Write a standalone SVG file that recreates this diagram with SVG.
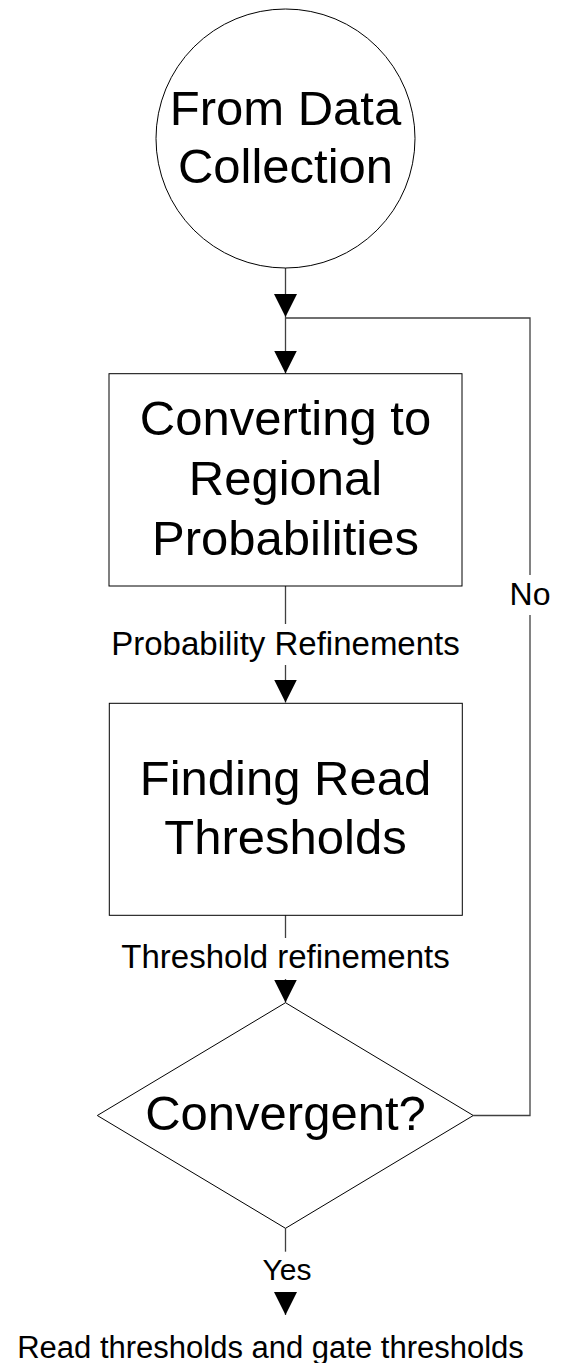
<svg xmlns="http://www.w3.org/2000/svg" width="562" height="1363" viewBox="0 0 562 1363">
<style>
.shape{fill:#fff;stroke:#000;stroke-width:1}
.conn{fill:none;stroke:#404040;stroke-width:1.3}
.arr{marker-end:url(#ah)}
text{font-family:"Liberation Sans",Arial,sans-serif;fill:#000;text-anchor:middle}
.big{font-size:49px}
.lbl{font-size:32px}
</style>
<defs>
<marker id="ah" markerUnits="userSpaceOnUse" markerWidth="23" markerHeight="23" viewBox="0 0 22 22" refX="22" refY="11" orient="auto">
<path d="M0,0 L22,11 L0,22 Z" fill="#000"/>
</marker>
</defs>
<rect width="562" height="1363" fill="#fff"/>
<g id="connectors">
<path class="conn arr" d="M285.5,268 V317"/>
<path class="conn arr" d="M285.5,317 V373.5"/>
<path class="conn" d="M473.3,1115.5 H530 V615"/>
<path class="conn" d="M530,575 V318 H285.5"/>
<path class="conn" d="M285.5,586 V624"/>
<path class="conn arr" d="M285.5,665 V702.5"/>
<path class="conn" d="M285.5,915 V938"/>
<path class="conn arr" d="M285.5,979 V1002.5"/>
<path class="conn" d="M285.5,1228.3 V1251.7"/>
<path class="conn arr" d="M285.5,1293 V1315"/>
<text class="lbl" x="285.5" y="655" style="font-size:33px">Probability Refinements</text>
<text class="lbl" x="285.5" y="968" style="font-size:33px">Threshold refinements</text>
<text class="lbl" x="530" y="605">No</text>
<text class="lbl" x="287" y="1280" style="font-size:30px">Yes</text>
<text class="lbl" x="270.5" y="1358" style="font-size:31px">Read thresholds and gate thresholds</text>
</g>
<g id="start">
<circle class="shape" cx="285.5" cy="138.5" r="129.5"/>
<text class="big" x="285.5" y="125">From Data</text>
<text class="big" x="285.5" y="183">Collection</text>
</g>
<g id="convert">
<rect class="shape" x="109" y="373.7" width="353" height="212.3"/>
<text class="big" x="285.5" y="435">Converting to</text>
<text class="big" x="285.5" y="495">Regional</text>
<text class="big" x="285.5" y="555">Probabilities</text>
</g>
<g id="find">
<rect class="shape" x="109.3" y="703.3" width="353" height="212"/>
<text class="big" x="285.5" y="795">Finding Read</text>
<text class="big" x="285.5" y="854">Thresholds</text>
</g>
<g id="decision">
<polygon class="shape" points="285.5,1002.7 473.3,1115.5 285.5,1228.3 97.3,1115.5"/>
<text class="big" x="285.5" y="1130">Convergent?</text>
</g>
</svg>
